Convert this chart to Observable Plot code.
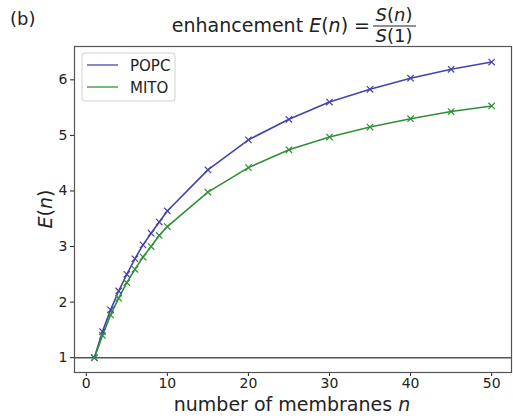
<!DOCTYPE html>
<html>
<head>
<meta charset="utf-8">
<script src="https://cdn.jsdelivr.net/npm/d3@7"></script>
<script src="https://cdn.jsdelivr.net/npm/@observablehq/plot@0.6"></script>
<style>
  html, body { margin: 0; padding: 0; background: #fff; }
  #chart { position: relative; width: 513px; height: 420px; }
</style>
</head>
<body>
<div id="chart"></div>
<script>
const nValues = [1, 2, 3, 4, 5, 6, 7, 8, 9, 10, 15, 20, 25, 30, 35, 40, 45, 50];
const popcValues = [1.0, 1.47, 1.86, 2.20, 2.50, 2.78, 3.03, 3.24, 3.44, 3.64, 4.38, 4.92, 5.29, 5.60, 5.83, 6.03, 6.19, 6.32];
const mitoValues = [1.0, 1.40, 1.77, 2.07, 2.35, 2.59, 2.81, 3.00, 3.20, 3.36, 3.98, 4.42, 4.74, 4.97, 5.15, 5.30, 5.43, 5.53];
const seriesNames = ["POPC", "MITO"];
const seriesColors = ["#4343ad", "#2f8f35"];
const xTicks = [0, 10, 20, 30, 40, 50];
const yTicks = [1, 2, 3, 4, 5, 6];

const data = [];
nValues.forEach((n, i) => {
  data.push({n, E: popcValues[i], series: "POPC"});
  data.push({n, E: mitoValues[i], series: "MITO"});
});

const W = 513, H = 420;
const mL = 74, mR = 2, mT = 46, mB = 48;

const plot = Plot.plot({
  width: W,
  height: H,
  marginLeft: mL,
  marginRight: mR,
  marginTop: mT,
  marginBottom: mB,
  style: {fontFamily: "DejaVu Sans, sans-serif", fontSize: "14px", color: "#222", background: "#fff"},
  x: {domain: [-1.45, 52.45], ticks: xTicks, tickSize: 4, tickPadding: 2, label: null, tickFormat: d3.format("d")},
  y: {domain: [0.733, 6.6], ticks: yTicks, tickSize: 4, tickPadding: 3, label: null, tickFormat: d3.format("d")},
  color: {domain: seriesNames, range: seriesColors},
  marks: [
    Plot.ruleY([1], {stroke: "#555", strokeWidth: 1.5}),
    Plot.line(data, {x: "n", y: "E", z: "series", stroke: "series", strokeWidth: 1.6}),
    Plot.dot(data, {x: "n", y: "E", stroke: "series", symbol: "times", r: 3, strokeWidth: 1.2}),
    Plot.frame({stroke: "#555", strokeWidth: 1.2})
  ]
});

document.getElementById("chart").appendChild(plot);

const svg = d3.select(plot);
const font = "DejaVu Sans, sans-serif";
const ink = "#222";

// panel label
svg.append("text").attr("x", 10).attr("y", 25).attr("text-anchor", "start").attr("font-family", font).attr("font-size", 18).attr("fill", ink).text("(b)");

// title
const title = svg.append("text").attr("x", 370).attr("y", 32).attr("text-anchor", "end").attr("font-family", font).attr("font-size", 19).attr("fill", ink);
title.append("tspan").text("enhancement ");
title.append("tspan").attr("font-style", "italic").text("E");
title.append("tspan").text("(");
title.append("tspan").attr("font-style", "italic").text("n");
title.append("tspan").text(") =");
const fx = 394;
const num = svg.append("text").attr("x", fx).attr("y", 21).attr("text-anchor", "middle").attr("font-family", font).attr("font-size", 18).attr("fill", ink);
num.append("tspan").attr("font-style", "italic").text("S");
num.append("tspan").text("(");
num.append("tspan").attr("font-style", "italic").text("n");
num.append("tspan").text(")");
svg.append("line").attr("x1", 373).attr("x2", 416).attr("y1", 26).attr("y2", 26).attr("stroke", ink).attr("stroke-width", 1.2);
const den = svg.append("text").attr("x", fx).attr("y", 42).attr("text-anchor", "middle").attr("font-family", font).attr("font-size", 18).attr("fill", ink);
den.append("tspan").attr("font-style", "italic").text("S");
den.append("tspan").text("(1)");

// x label
const xl = svg.append("text").attr("x", 292).attr("y", 411).attr("text-anchor", "middle").attr("font-family", font).attr("font-size", 19).attr("fill", ink);
xl.append("tspan").text("number of membranes ");
xl.append("tspan").attr("font-style", "italic").text("n");

// y label
const yl = svg.append("text").attr("transform", `translate(52,${(mT + H - mB) / 2}) rotate(-90)`).attr("text-anchor", "middle").attr("font-family", font).attr("font-size", 19).attr("fill", ink);
yl.append("tspan").attr("font-style", "italic").text("E");
yl.append("tspan").text("(");
yl.append("tspan").attr("font-style", "italic").text("n");
yl.append("tspan").text(")");

// legend
const lg = svg.append("g");
lg.append("rect").attr("x", 82).attr("y", 53).attr("width", 93).attr("height", 48).attr("rx", 3).attr("fill", "#fff").attr("fill-opacity", 0.8).attr("stroke", "#d0d0d0");
seriesNames.forEach((s, i) => {
  const y = 65 + i * 22;
  lg.append("line").attr("x1", 87).attr("x2", 118).attr("y1", y).attr("y2", y).attr("stroke", seriesColors[i]).attr("stroke-width", 1.5).attr("stroke-opacity", 0.85);
  lg.append("text").attr("x", 130).attr("y", y + 5.5).attr("text-anchor", "start").attr("font-family", font).attr("font-size", 15).attr("fill", ink).text(s);
});
</script>
</body>
</html>
